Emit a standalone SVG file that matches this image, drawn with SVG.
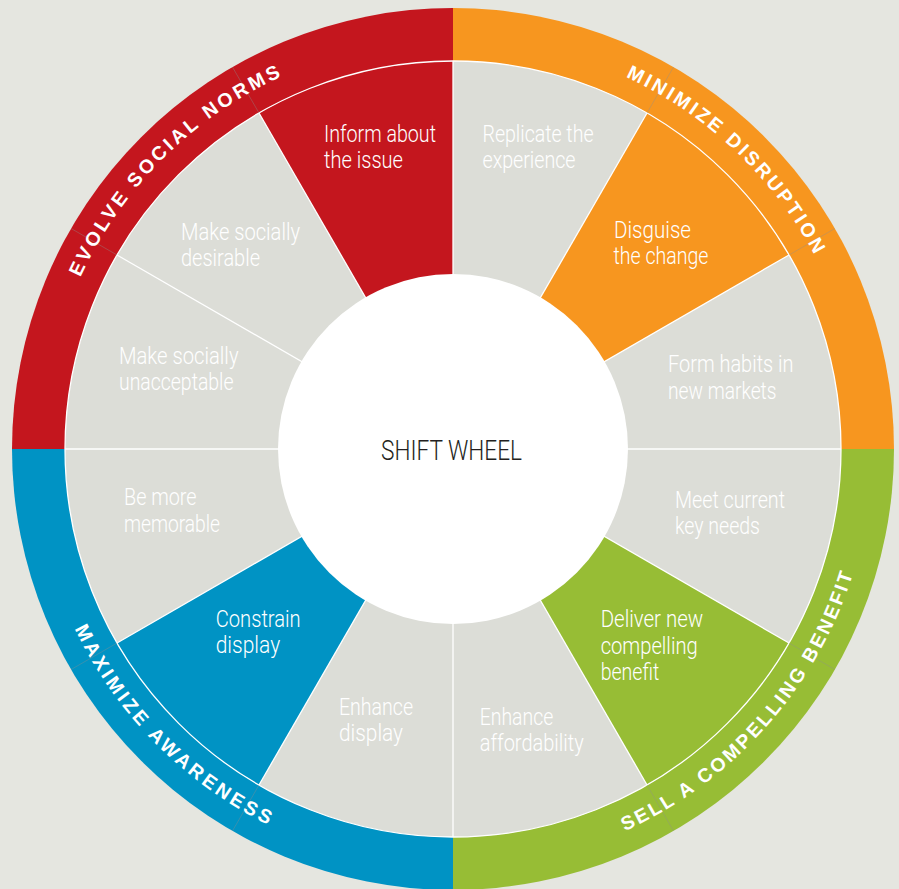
<svg xmlns="http://www.w3.org/2000/svg" width="899" height="889" viewBox="0 0 899 889">
<style>
.seg{font-family:Roboto,"Liberation Sans","DejaVu Sans",sans-serif;font-weight:300;font-size:24px;fill:#ffffff;}
.ring{font-family:"Liberation Sans",Arial,"DejaVu Sans",sans-serif;font-weight:bold;font-size:19.5px;fill:#ffffff;}
.gray{fill:#dcddd7;}
.div{stroke:#ffffff;stroke-width:1.3;fill:none;}
.tick{stroke:#8f8f8f;stroke-width:0.7;opacity:0.55;fill:none;}
</style>
<defs>
<path id="pEvolve" d="M118.0,681.8 A407.5,407.5 0 0 1 688.2,115.6"/>
<path id="pMin" d="M210.3,121.0 A407.5,407.5 0 0 1 793.2,674.2"/>
<path id="pSell" d="M233.7,808.4 A421.5,421.5 0 0 0 782.0,186.3"/>
<path id="pMax" d="M109.0,206.3 A421.5,421.5 0 0 0 693.3,794.7"/>
</defs>
<rect x="0" y="0" width="899" height="889" fill="#e5e6e0"/>

<g id="ring-evolve">
<path d="M453,449 L453,8 A441,441 0 0 0 12,449 Z" fill="#c4161e"/>
</g>
<g id="ring-minimize">
<path d="M453,449 L453,8 A441,441 0 0 1 894,449 Z" fill="#f7961f"/>
</g>
<g id="ring-sell">
<path d="M453,449 L894,449 A441,441 0 0 1 453,890 Z" fill="#97bd35"/>
</g>
<g id="ring-maximize">
<path d="M453,449 L453,890 A441,441 0 0 1 12,449 Z" fill="#0093c4"/>
</g>

<circle cx="453" cy="449" r="388" class="gray"/>

<g id="seg-inform">
<path d="M453,449 L453,61 A388,388 0 0 0 259,113 Z" fill="#c4161e"/>
</g>
<g id="seg-disguise">
<path d="M453,449 L647,113 A388,388 0 0 1 789,255 Z" fill="#f7961f"/>
</g>
<g id="seg-deliver">
<path d="M453,449 L789,643 A388,388 0 0 1 647,785 Z" fill="#97bd35"/>
</g>
<g id="seg-constrain">
<path d="M453,449 L259,785 A388,388 0 0 1 117,643 Z" fill="#0093c4"/>
</g>

<g id="connectors">
<line class="div" x1="453" y1="449" x2="841" y2="449"/>
<line class="div" x1="453" y1="449" x2="789" y2="255"/>
<line class="div" x1="453" y1="449" x2="647" y2="113"/>
<line class="div" x1="453" y1="449" x2="453" y2="61"/>
<line class="div" x1="453" y1="449" x2="259" y2="113"/>
<line class="div" x1="453" y1="449" x2="117" y2="255"/>
<line class="div" x1="453" y1="449" x2="65" y2="449"/>
<line class="div" x1="453" y1="449" x2="117" y2="643"/>
<line class="div" x1="453" y1="449" x2="259" y2="785"/>
<line class="div" x1="453" y1="449" x2="453" y2="837"/>
<line class="div" x1="453" y1="449" x2="647" y2="785"/>
<line class="div" x1="453" y1="449" x2="789" y2="643"/>
<circle class="div" cx="453" cy="449" r="388" stroke-width="1.1"/>
<line class="tick" x1="789" y1="255" x2="834.9" y2="228.5"/>
<line class="tick" x1="647" y1="113" x2="673.5" y2="67.1"/>
<line class="tick" x1="259" y1="113" x2="232.5" y2="67.1"/>
<line class="tick" x1="117" y1="255" x2="71.1" y2="228.5"/>
<line class="tick" x1="117" y1="643" x2="71.1" y2="669.5"/>
<line class="tick" x1="259" y1="785" x2="232.5" y2="830.9"/>
<line class="tick" x1="647" y1="785" x2="673.5" y2="830.9"/>
<line class="tick" x1="789" y1="643" x2="834.9" y2="669.5"/>
</g>

<g id="center">
<circle cx="453" cy="449" r="175" fill="#ffffff"/>
<text x="381" y="460" font-family="Roboto,'Liberation Sans','DejaVu Sans',sans-serif" font-weight="300" font-size="28" fill="#231f20" textLength="141" lengthAdjust="spacingAndGlyphs">SHIFT WHEEL</text>
</g>

<g id="label-evolve"><text class="ring" letter-spacing="3.1"><textPath href="#pEvolve" startOffset="50%" text-anchor="middle">EVOLVE SOCIAL NORMS</textPath></text></g>
<g id="label-minimize"><text class="ring" letter-spacing="2.8"><textPath href="#pMin" startOffset="50%" text-anchor="middle">MINIMIZE DISRUPTION</textPath></text></g>
<g id="label-sell"><text class="ring" letter-spacing="2.6"><textPath href="#pSell" startOffset="50%" text-anchor="middle">SELL A COMPELLING BENEFIT</textPath></text></g>
<g id="label-maximize"><text class="ring" letter-spacing="3.3"><textPath href="#pMax" startOffset="50%" text-anchor="middle">MAXIMIZE AWARENESS</textPath></text></g>

<g id="t-inform">
<text class="seg" x="324" y="142" textLength="112" lengthAdjust="spacingAndGlyphs">Inform about</text>
<text class="seg" x="324" y="168" textLength="79" lengthAdjust="spacingAndGlyphs">the issue</text>
</g>
<g id="t-replicate">
<text class="seg" x="482.5" y="142" textLength="111" lengthAdjust="spacingAndGlyphs">Replicate the</text>
<text class="seg" x="482.5" y="167.5" textLength="93" lengthAdjust="spacingAndGlyphs">experience</text>
</g>
<g id="t-desirable">
<text class="seg" x="181" y="240" textLength="119" lengthAdjust="spacingAndGlyphs">Make socially</text>
<text class="seg" x="181" y="266" textLength="79" lengthAdjust="spacingAndGlyphs">desirable</text>
</g>
<g id="t-disguise">
<text class="seg" x="614" y="237.5" textLength="77" lengthAdjust="spacingAndGlyphs">Disguise</text>
<text class="seg" x="613.5" y="264" textLength="95" lengthAdjust="spacingAndGlyphs">the change</text>
</g>
<g id="t-unacceptable">
<text class="seg" x="119" y="363.5" textLength="119.5" lengthAdjust="spacingAndGlyphs">Make socially</text>
<text class="seg" x="119" y="390" textLength="114.5" lengthAdjust="spacingAndGlyphs">unacceptable</text>
</g>
<g id="t-habits">
<text class="seg" x="668" y="372" textLength="125.5" lengthAdjust="spacingAndGlyphs">Form habits in</text>
<text class="seg" x="668" y="398.5" textLength="108.5" lengthAdjust="spacingAndGlyphs">new markets</text>
</g>
<g id="t-memorable">
<text class="seg" x="124" y="505" textLength="72.5" lengthAdjust="spacingAndGlyphs">Be more</text>
<text class="seg" x="124" y="531.5" textLength="96" lengthAdjust="spacingAndGlyphs">memorable</text>
</g>
<g id="t-needs">
<text class="seg" x="675" y="507.5" textLength="110" lengthAdjust="spacingAndGlyphs">Meet current</text>
<text class="seg" x="675" y="534" textLength="85" lengthAdjust="spacingAndGlyphs">key needs</text>
</g>
<g id="t-constrain">
<text class="seg" x="215.7" y="627" textLength="85" lengthAdjust="spacingAndGlyphs">Constrain</text>
<text class="seg" x="215.7" y="653" textLength="64.5" lengthAdjust="spacingAndGlyphs">display</text>
</g>
<g id="t-deliver">
<text class="seg" x="600.7" y="627" textLength="102.5" lengthAdjust="spacingAndGlyphs">Deliver new</text>
<text class="seg" x="600.7" y="653.5" textLength="97" lengthAdjust="spacingAndGlyphs">compelling</text>
<text class="seg" x="600.7" y="679.5" textLength="58.5" lengthAdjust="spacingAndGlyphs">benefit</text>
</g>
<g id="t-enhance-display">
<text class="seg" x="339" y="714.5" textLength="74" lengthAdjust="spacingAndGlyphs">Enhance</text>
<text class="seg" x="339" y="741" textLength="64" lengthAdjust="spacingAndGlyphs">display</text>
</g>
<g id="t-affordability">
<text class="seg" x="479.7" y="724.5" textLength="73.5" lengthAdjust="spacingAndGlyphs">Enhance</text>
<text class="seg" x="479.7" y="751" textLength="104" lengthAdjust="spacingAndGlyphs">affordability</text>
</g>
</svg>
